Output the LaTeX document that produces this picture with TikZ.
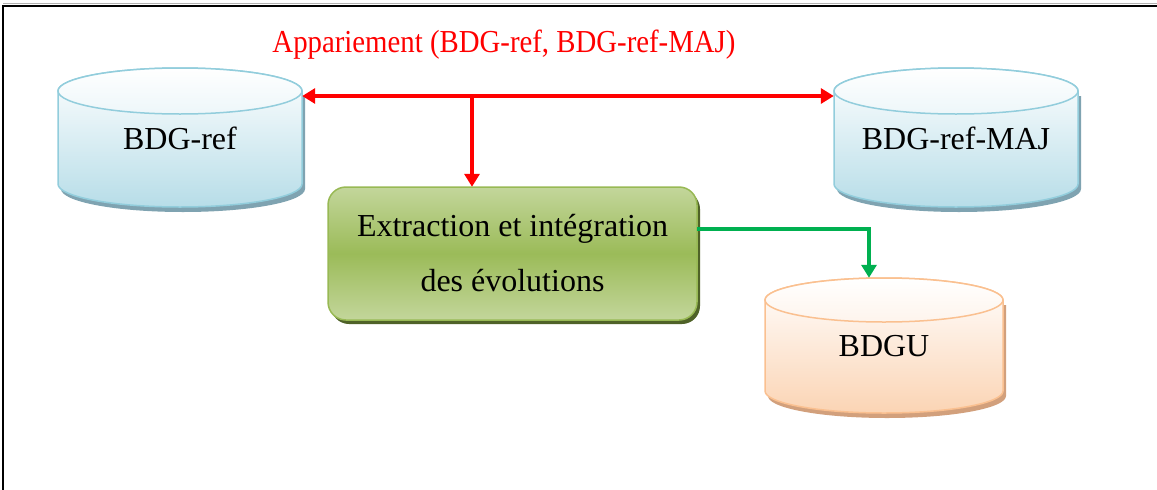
\documentclass[tikz,border=0pt]{standalone}
\usepackage{fontspec}
\setmainfont{Liberation Serif}
\usetikzlibrary{arrows.meta,calc}

\definecolor{cylblue}{HTML}{B7DDE8}
\definecolor{cylblueline}{HTML}{92CDDC}
\definecolor{cylblueshadow}{HTML}{7FA3B1}
\definecolor{cylpeach}{HTML}{FBD4B4}
\definecolor{cylpeachline}{HTML}{FAC090}
\definecolor{cylpeachshadow}{HTML}{D2A07C}
\definecolor{boxlight}{HTML}{C3D69B}
\definecolor{boxmid}{HTML}{9BBB59}
\definecolor{boxline}{HTML}{98B954}
\definecolor{boxshadow}{HTML}{4F6228}
\definecolor{linkred}{HTML}{FF0000}
\definecolor{linkgreen}{HTML}{00B050}

% Database drum: #1 centre x, #2 top-ellipse y, #3 x radius, #4 y radius,
% #5 bottom-ellipse y, #6 fill colour, #7 border colour, #8 shadow colour
\newcommand{\dbdrum}[8]{%
  \fill[#8] ({#1-#3+3},{#2+5}) -- ({#1-#3+3},{#5+5})
    arc[start angle=180,end angle=360,x radius=#3pt,y radius=#4pt]
    -- ({#1+#3+3},{#2+5}) -- cycle;
  \shade[top color=white,bottom color=#6,draw=#7,line width=1.5pt]
    ({#1-#3},#2) -- ({#1-#3},#5)
    arc[start angle=180,end angle=360,x radius=#3pt,y radius=#4pt]
    -- ({#1+#3},#2)
    arc[start angle=0,end angle=180,x radius=#3pt,y radius=#4pt] -- cycle;
  \shade[top color=white,bottom color=#6!25,draw=#7,line width=1.5pt]
    (#1,#2) ellipse[x radius=#3pt,y radius=#4pt];
}

\tikzset{
  bigtext/.style={font=\fontsize{32}{38}\selectfont, text=black},
  drumlabel/.style={bigtext, inner sep=0pt, text depth=0pt},
  redlink/.style={draw=linkred, line width=4pt,
    arrows={Triangle[length=13pt,width=15pt]-Triangle[length=13pt,width=15pt]}},
  redarrow/.style={draw=linkred, line width=4pt, -{Triangle[length=13pt,width=15pt]}},
  greenarrow/.style={draw=linkgreen, line width=4pt, -{Triangle[length=13pt,width=15pt]}},
}

\begin{document}
\begin{tikzpicture}[x=1pt,y=-1pt]
\useasboundingbox (0,0) rectangle (1157,490);

% page frame (top and left edges)
\draw[gray!60, line width=1pt] (3,3.5) -- (1157,3.5);
\draw[black, line width=2pt] (3,5.5) -- (1157,5.5);
\draw[black, line width=1.5pt] (3,5) -- (3,490);

% databases
\dbdrum{180}{91}{122}{23}{184}{cylblue}{cylblueline}{cylblueshadow}
\dbdrum{956}{91}{122}{23}{184}{cylblue}{cylblueline}{cylblueshadow}
\dbdrum{884}{300}{119}{22}{391}{cylpeach}{cylpeachline}{cylpeachshadow}

\node[drumlabel, minimum width=244pt, minimum height=139pt] (ref) at (180,138) {BDG-ref};
\node[drumlabel, minimum width=244pt, minimum height=139pt] (maj) at (956,138) {BDG-ref-MAJ};
\node[drumlabel, minimum width=238pt, minimum height=135pt] (bdgu) at (884,345.5) {BDGU};

% processing step
\fill[boxshadow, rounded corners=18pt] (331,191) rectangle (700,324);
\shade[top color=boxlight, bottom color=boxlight, middle color=boxmid,
       draw=boxline, line width=1.5pt, rounded corners=18pt]
  (328,187) rectangle (697,320);
\node[inner sep=0pt, minimum width=369pt, minimum height=133pt, align=center,
      font=\fontsize{32}{55}\selectfont] (ext) at (512.5,253.5)
  {Extraction et intégration\\des évolutions};

% matching label
\node[text=linkred, font=\fontsize{32}{38}\selectfont, inner sep=0pt] (title) at (504,45)
  {\scalebox{0.9}[1]{Appariement (BDG-ref, BDG-ref-MAJ)}};

% connectors
\coordinate (split) at (472,96);
\draw[redlink] (ref.east |- split) -- (maj.west |- split);
\draw[redarrow] (split) -- (split |- ext.north);
\draw[greenarrow] ([yshift=24.5pt]ext.east) -| ([xshift=-15pt]bdgu.north);
\end{tikzpicture}
\end{document}
